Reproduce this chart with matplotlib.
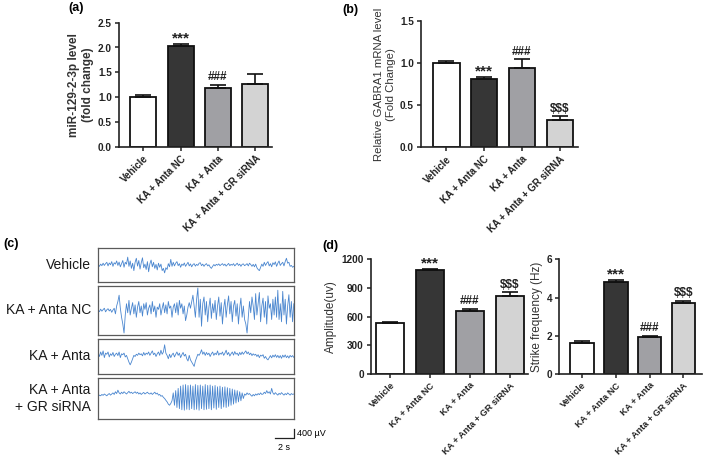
import matplotlib
matplotlib.use("Agg")
import matplotlib.pyplot as plt
import numpy as np

plt.rcParams['font.family'] = ['Liberation Sans', 'DejaVu Sans']

groups = ['Vehicle', 'KA + Anta NC', 'KA + Anta', 'KA + Anta + GR siRNA']
trace_names = ['Vehicle', 'KA + Anta NC', 'KA + Anta', 'KA + Anta\n+ GR siRNA']

# (a) miR-129-2-3p
mir_mean = [1.00, 2.03, 1.19, 1.27]
mir_err = [0.05, 0.05, 0.06, 0.19]
mir_marks = ['', '***', '###', '']

# (b) GABRA1 mRNA
gabra_mean = [1.00, 0.81, 0.95, 0.32]
gabra_err = [0.03, 0.03, 0.10, 0.05]
gabra_marks = ['', '***', '###', '$$$']

# (d) amplitude and strike frequency
amp_mean = [535, 1088, 662, 818]
amp_err = [12, 15, 22, 38]
freq_mean = [1.60, 4.83, 1.93, 3.73]
freq_err = [0.12, 0.11, 0.07, 0.10]
d_marks = ['', '***', '###', '$$$']

# (c) EEG traces, uV, one sample every 0.125 s
dt = 0.125
trace_vehicle = [
    20, -60, 40, -30, 80, -20, 60, 120, -40, 90, 10, 150, -60, 100, 40, 180, -20, 130, -80, 60,
    200, -100, 120, 40, 350, -60, 180, -150, 80, -250, 120, 300, -50, 200, -180, 100, 320, -120, 40, -200,
    150, -300, 50, 220, -80, 120, -150, 30, -220, 80, -100, 40, -250, -150, -350, -120, -200, 60, -80, 250,
    -60, 120, -40, 80, 150, -30, 60, -100, 40, -20, 90, -60, 30, 120, -40, 50, -80, 20, 60, -50,
    30, -20, 80, 100, -30, 40, -60, 20, 60, -40, 10, -90, -150, -60, 20, -40, 30, -10, 50, -30,
    20, 60, -20, 40, -50, 10, 70, -30, 30, -10, 60, -40, 20, 80, -20, 40, -60, 30, 50, -30,
    10, 60, -40, 80, 20, -60, 30, -80, 40, -120, -200, -250, -100, 40, -60, 120, -20, 80, 150, -40,
    60, -80, 100, 20, 140, -60, 80, 180, -20, 60, 120, -40, 150, 300, 80, 120, -60, -20, -100, -60]
trace_nc = [
    0, -50, 60, -30, 40, 100, -60, 30, 80, -20, 50, -80, 20, 100, -150, 200, 400, 680, 100, -300,
    -600, -1000, -200, 300, -100, 450, -200, 100, 350, -150, 250, -300, 150, 400, -100, 200, -250, 300, 50, 350,
    -200, 100, 250, -150, 400, -50, 200, -300, 150, 50, 300, -200, 100, 350, -100, 250, -150, 400, 100, 200,
    -300, 150, 300, -100, 350, -200, 450, 100, 300, -150, 200, -450, -200, 150, 350, 100, 400, 680, 200, -300,
    500, 1000, -300, 500, -700, 300, 600, -200, 400, -500, 150, 550, -350, 300, -100, 450, -400, 200, 600, -250,
    350, -600, 100, 500, -300, 250, 650, -150, 400, -500, 200, 450, -250, 300, -600, 100, 550, -300, 200, -400,
    -600, -1000, -300, 400, -100, 600, 200, -400, 750, -200, 300, 800, -500, 200, 550, -300, 400, -600, 650, 100,
    300, -400, 500, -200, 600, -300, 900, -400, 300, -500, 850, -200, 500, -600, 200, 700, -300, 400, -500, 300]
trace_anta = [
    150, 0, 200, 50, 250, -50, 150, 100, 200, -20, 120, 50, 180, 0, 100, 150, 40, 200, -50, 120,
    80, 150, -20, 50, -100, -250, -370, -250, -100, 50, 0, 100, 50, 150, 80, 120, 30, 180, 60, 150,
    100, 200, 50, 150, 250, 80, 150, 0, 120, 200, 50, 280, 100, 200, 520, 150, 50, -100, 100, -50,
    80, 150, -20, 100, 200, 50, 150, -50, 80, 180, 20, 100, -100, -200, 50, -150, -250, -350, -440, -200,
    -50, 100, 50, 150, 300, 100, 200, 50, 180, 80, 150, 0, 120, 200, 50, 150, 80, 250, 60, 150,
    100, 200, 50, 150, 280, 80, 180, 20, 120, 200, 60, 220, 100, 150, 40, 180, 80, 200, 100, 180,
    250, 120, 200, 80, 150, 40, 120, 60, 100, 0, 80, -50, 60, 20, 80, -80, 0, -100, -150, -50,
    40, -60, 60, -20, 80, -40, 50, -60, 40, -80, 60, -30, 70, -50, 30, -70, 50, -20, 40, -40]
trace_gr = [
    100, 150, 120, 180, 140, 200, 160, 120, 180, 220, 150, 200, 250, 180, 300, 220, 370, 250, 200, 280,
    220, 300, 250, 200, 260, 320, 240, 280, 220, 260, 300, 230, 280, 200, 250, 180, 230, 270, 200, 240,
    280, 220, 200, 250, 180, 230, 280, 200, 240, 150, 180, 100, 130, 50, 0, -80, -150, -250, -300, -220,
    -100, 250, -300, 350, -400, 450, -450, 550, -500, 600, -520, 620, -480, 580, -500, 600, -450, 550, -500, 620,
    -480, 580, -520, 600, -450, 550, -500, 620, -480, 580, -450, 600, -500, 550, -420, 580, -480, 520, -400, 550,
    -450, 500, -380, 520, -400, 480, -350, 450, -300, 420, -250, 380, -200, 350, -150, 300, -100, 250, 0, 200,
    150, 250, 180, 220, 150, 100, 180, 120, 200, 150, 220, 170, 250, 180, 200, 280, 220, 350, 240, 300,
    200, 450, 250, 180, 260, 200, 150, 230, 180, 260, 200, 150, 220, 170, 250, 200, 150, 220, 180, 200]
traces = [trace_vehicle, trace_nc, trace_anta, trace_gr]

bar_colors = ['white', '#363636', '#a0a0a4', '#d3d3d3']

W, H = 709, 459
fig = plt.figure(figsize=(W / 100, H / 100), dpi=100)


def px_axes(l, t, r, b):
    return fig.add_axes([l / W, 1 - b / H, (r - l) / W, (b - t) / H])


def bar_panel(ax, means, errs, marks, ylim, yticks, fmt, xlim, label_size=7):
    x = np.arange(len(means))
    ax.bar(x, means, width=0.7, color=bar_colors, edgecolor='#111111', linewidth=1.3, zorder=2)
    ax.errorbar(x, means, yerr=[np.zeros(len(errs)), errs], fmt='none', ecolor='#111111',
                elinewidth=1.2, capsize=6, capthick=1.2, zorder=3)
    for xi, m, e, s in zip(x, means, errs, marks):
        if s:
            star = s.startswith('*')
            ax.annotate(s, (xi, m + e), xytext=(0, -1.5 if star else 1), textcoords='offset points',
                        ha='center', va='bottom', fontsize=11 if star else 8.5,
                        fontweight='bold', color='#222222', parse_math=False)
    ax.set_ylim(*ylim)
    ax.set_xlim(*xlim)
    ax.set_yticks(yticks)
    ax.set_yticklabels([fmt.format(v) for v in yticks], fontsize=7.2, fontweight='bold')
    ax.set_xticks(x)
    ax.set_xticklabels(groups, rotation=45, ha='right', rotation_mode='anchor',
                       fontsize=label_size, fontweight='bold')
    for side in ['top', 'right']:
        ax.spines[side].set_visible(False)
    for side in ['left', 'bottom']:
        ax.spines[side].set_linewidth(1.2)
        ax.spines[side].set_color('#222222')
    ax.tick_params(direction='out', length=3, width=1.1, pad=2, colors='#222222')


# (a)
ax_a = px_axes(119, 22.7, 272, 146.7)
bar_panel(ax_a, mir_mean, mir_err, mir_marks, (0, 2.5), [0, 0.5, 1.0, 1.5, 2.0, 2.5],
          '{:.1f}', (-0.65, 3.45))
ax_a.set_ylabel('miR-129-2-3p level\n(fold change)', fontsize=8.5, fontweight='bold',
                multialignment='center', labelpad=3, color='#333333')

# (b)
ax_b = px_axes(421, 21.5, 578, 147)
bar_panel(ax_b, gabra_mean, gabra_err, gabra_marks, (0, 1.5), [0, 0.5, 1.0, 1.5],
          '{:.1f}', (-0.67, 3.48))
ax_b.set_ylabel('Relative GABRA1 mRNA level\n(Fold Change)', fontsize=8.2,
                multialignment='center', labelpad=3, color='#333333')

# (d) amplitude
ax_d1 = px_axes(370.7, 259.3, 527.5, 374)
bar_panel(ax_d1, amp_mean, amp_err, d_marks, (0, 1200), [0, 300, 600, 900, 1200],
          '{:d}', (-0.49, 3.45), label_size=6.6)
ax_d1.set_ylabel('Amplitude(uv)', fontsize=8.5, labelpad=3, color='#333333')

# (d) strike frequency
ax_d2 = px_axes(559.3, 259.3, 702, 374)
bar_panel(ax_d2, freq_mean, freq_err, d_marks, (0, 6), [0, 2, 4, 6],
          '{:d}', (-0.67, 3.55), label_size=6.6)
ax_d2.set_ylabel('Strike frequency (Hz)', fontsize=8.5, labelpad=3, color='#333333')

# (c) EEG traces
uv_per_px = 400 / 9.0
boxes = [(248, 282), (286, 335), (339, 374), (377.7, 419.3)]
t_end = (len(trace_vehicle) - 1) * dt
trace_axes = []
for (top, bottom), tr, name in zip(boxes, traces, trace_names):
    ax = px_axes(97.7, top, 294.3, bottom)
    t = np.arange(len(tr)) * dt
    ax.plot(t, tr, color='#4a86cf', lw=0.6)
    half = (bottom - top) / 2 * uv_per_px
    ax.set_ylim(-half, half)
    ax.set_xlim(-0.05, t_end + 0.05)
    ax.set_xticks([])
    ax.set_yticks([])
    for s in ax.spines.values():
        s.set_color('#5a5a5a')
        s.set_linewidth(0.9)
    ax.text(-0.035, 0.5, name, transform=ax.transAxes, ha='right', va='center',
            fontsize=10, multialignment='right', color='#1a1a1a')
    trace_axes.append(ax)

# scale bar: 2 s x 400 uV
ax_last = trace_axes[-1]
y0 = ax_last.get_ylim()[0] - 18.7 * uv_per_px
x1 = t_end + 0.05
ax_last.plot([x1 - 2, x1, x1], [y0, y0, y0 + 400], color='#222222', lw=0.9, clip_on=False)
ax_last.text(x1 + 0.25, y0 + 200, '400 µV', fontsize=6.5, ha='left', va='center')
ax_last.text(x1 - 1, y0 - 200, '2 s', fontsize=6.5, ha='center', va='top')

# panel letters
fig.text(68 / W, 1 - 8 / H, '(a)', fontsize=9, fontweight='bold', va='center')
fig.text(342 / W, 1 - 10 / H, '(b)', fontsize=9, fontweight='bold', va='center')
fig.text(3 / W, 1 - 244 / H, '(c)', fontsize=9, fontweight='bold', va='center')
fig.text(322 / W, 1 - 246 / H, '(d)', fontsize=9, fontweight='bold', va='center')

fig.savefig('out.png', dpi=100)
